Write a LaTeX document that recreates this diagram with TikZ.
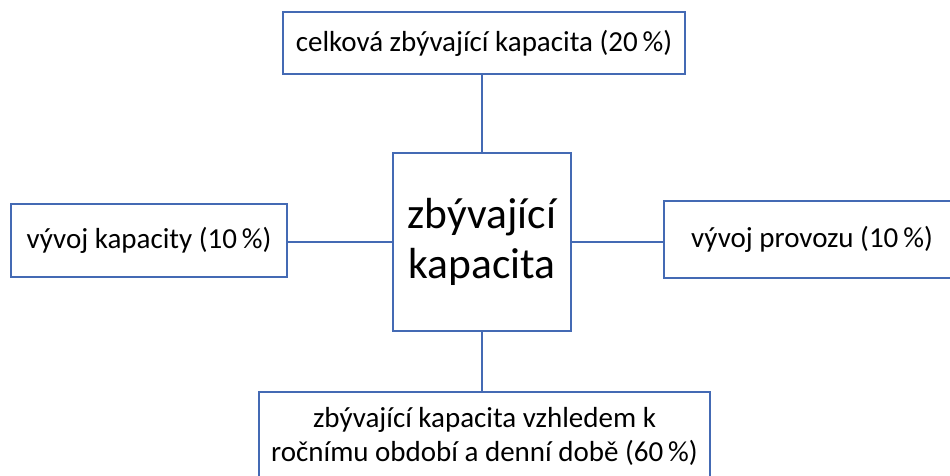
\documentclass[tikz,border=0pt]{standalone}
\usepackage{fontspec}
\setmainfont{Carlito}
\definecolor{boxblue}{RGB}{68,106,180}
\begin{document}
\begin{tikzpicture}[x=1pt,y=-1pt,
  box/.style={draw=boxblue,line width=2.4pt,fill=white,rectangle,inner sep=0pt,align=center,font=\fontsize{29}{34}\selectfont},
  link/.style={draw=boxblue,line width=2.4pt}]
\useasboundingbox (0,0) rectangle (950,475);
\node[box,minimum width=402pt,minimum height=62pt] (top) at (484,43) {celková zbývající kapacita (20\,\%)};
\node[box,minimum width=178pt,minimum height=178pt,font=\fontsize{43.5}{50}\selectfont] (center) at (482,242) {zbývající\\kapacita};
\node[box,minimum width=276pt,minimum height=73pt] (left) at (149,240.5) {vývoj kapacity (10\,\%)};
\node[box,minimum width=296pt,minimum height=77pt] (right) at (812,239.5) {vývoj provozu (10\,\%)};
\node[box,minimum width=451pt,minimum height=88pt] (bottom) at (484.5,436) {zbývající kapacita vzhledem k\\ročnímu období a denní době (60\,\%)};
\draw[link] (center.north) -- (center.north |- top.south);
\draw[link] (center.west) -- (center.west -| left.east);
\draw[link] (center.east) -- (center.east -| right.west);
\draw[link] (center.south) -- (center.south |- bottom.north);
\end{tikzpicture}
\end{document}
